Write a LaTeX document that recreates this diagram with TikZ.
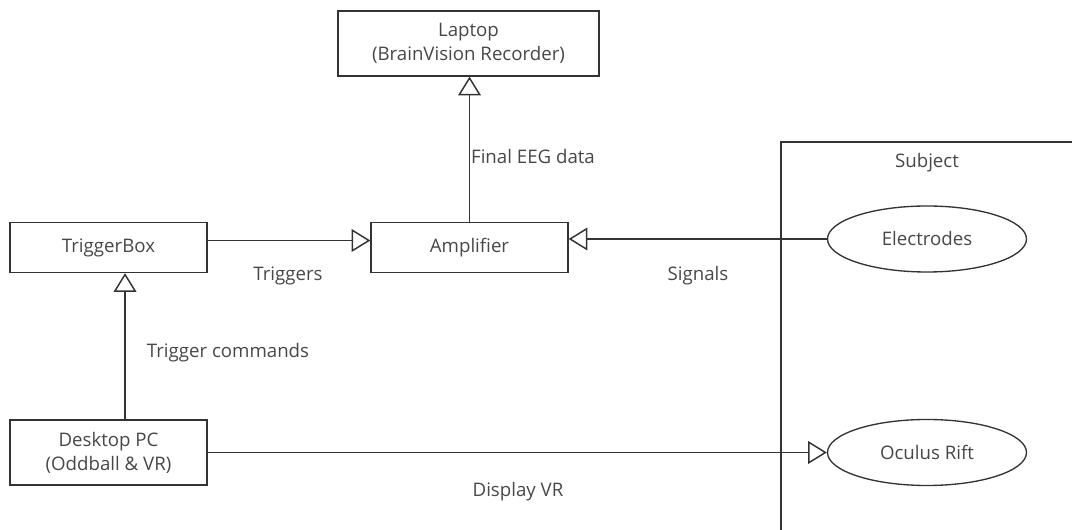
\documentclass[tikz,border=0pt]{standalone}
\usepackage{fontspec}
\setmainfont{Open Sans}
\usetikzlibrary{arrows.meta,shapes.geometric}

\begin{document}
\begin{tikzpicture}[
  x=0.75pt, y=-0.75pt,
  every node/.style={font=\fontsize{14}{18}\selectfont, text=black!72, align=center},
  box/.style={draw=black!80, line width=1pt, rectangle, inner sep=0pt, minimum width=147.75pt},
  oval/.style={draw=black!80, line width=1pt, ellipse, inner sep=0pt, minimum width=149.25pt, minimum height=49.5pt},
  flow/.style={draw=black!80, line width=1pt, -{Triangle[open, length=14pt, width=17pt, line width=1.1pt]}}
]
\useasboundingbox (0,0) rectangle (1072,530);

% devices
\node[box, minimum width=195.75pt, minimum height=48.75pt] (laptop) at (468.5,43.5) {Laptop\\(BrainVision Recorder)};
\node[box, minimum height=37.5pt] (trigbox) at (108.5,247.5) {TriggerBox};
\node[box, minimum height=37.5pt] (amp) at (469.5,247.5) {Amplifier};
\node[box, minimum height=48.75pt] (desktop) at (108.5,452.5) {Desktop PC\\(Oddball \& VR)};

% subject
\draw[black!80, line width=1pt] (1080,142) -- (781,142) -- (781,540);
\node (subject) at (927,163) {Subject};
\node[oval] (electrodes) at (927,239) {Electrodes};
\node[oval] (rift) at (927,452.5) {Oculus Rift};

% connectors
\draw[flow] ([yshift=5.25pt]trigbox.east) -- ([yshift=5.25pt]amp.west);
\draw[flow] (electrodes.west) -- (electrodes.west -| amp.east);
\draw[flow] (amp.north) -- (amp.north |- laptop.south);
\draw[flow] ([xshift=12.4pt]desktop.north) -- ([xshift=12.4pt]trigbox.south);
\draw[flow] (desktop.east) -- (rift.west);

% labels
\node (lbltrig) at (288,276) {Triggers};
\node (lblsig) at (698,276) {Signals};
\node (lbleeg) at (533,157) {Final EEG data};
\node (lblcmd) at (228,353) {Trigger commands};
\node (lblvr) at (518,492) {Display VR};
\end{tikzpicture}
\end{document}
